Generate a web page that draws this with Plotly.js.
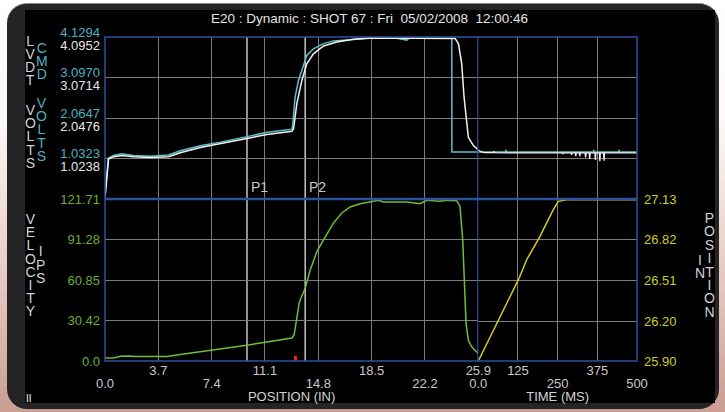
<!DOCTYPE html>
<html>
<head>
<meta charset="utf-8">
<script src="https://cdn.plot.ly/plotly-3.0.1.min.js"></script>
<style>
html,body{margin:0;padding:0;width:725px;height:412px;overflow:hidden;
  background:linear-gradient(to bottom,#ffffff 0%,#fcf8f7 30%,#e4c6be 70%,#c99d92 100%);}
#frame{position:absolute;left:7px;top:3px;width:712px;height:406px;background:#242424;border-radius:20px;border-top:1px solid #8a8a8a;box-sizing:border-box;}
#inner{position:absolute;left:25px;top:10px;width:690px;height:393px;background:#000;}
#chart{position:absolute;left:0;top:0;width:725px;height:412px;}
</style>
</head>
<body>
<div id="frame"></div>
<div id="inner"></div>
<div id="chart"></div>
<script>
// ---------- data ----------
const chartTitle = 'E20 : Dynamic : SHOT 67 : Fri  05/02/2008  12:00:46';

const posTicks    = [0.0, 3.7, 7.4, 11.1, 14.8, 18.5, 22.2, 25.9];
const posTickText = ['0.0','3.7','7.4','11.1','14.8','18.5','22.2','25.9'];
const timeTicks    = [0, 125, 250, 375, 500];
const timeTickText = ['0.0','125','250','375','500'];
const velTicks    = [0, 30.42, 60.85, 91.28, 121.71];
const velTickText = ['0.0','30.42','60.85','91.28','121.71'];
const inTicks    = [25.90, 26.20, 26.51, 26.82, 27.13];
const inTickText = ['25.90','26.20','26.51','26.82','27.13'];
const cmdTicks    = [1.0323, 2.0647, 3.0970, 4.1294];
const cmdTickText = ['1.0323','2.0647','3.0970','4.1294'];
const lvdtTicks    = [1.0238, 2.0476, 3.0714, 4.0952];
const lvdtTickText = ['1.0238','2.0476','3.0714','4.0952'];

// CMD volts vs position (cyan)
const cmdPos   = [0.0, 0.23, 0.58, 1.16, 1.97, 3.13, 4.40, 5.22, 6.61, 8.00, 9.86, 11.25, 12.98, 13.03, 13.19, 13.42, 13.66, 14.00, 14.46, 15.16, 15.85, 16.78, 18.39, 20.24, 20.94, 21.10, 23.94, 24.06, 24.07, 25.9];
const cmdVolts = [0.07, 1.04, 1.11, 1.15, 1.11, 1.09, 1.12, 1.23, 1.36, 1.45, 1.59, 1.70, 1.78, 1.92, 2.60, 3.02, 3.28, 3.66, 3.83, 3.96, 4.03, 4.06, 4.10, 4.10, 4.05, 4.10, 4.10, 4.10, 1.20, 1.20];
// CMD volts vs time (cyan tail)
const cmdTailTime  = [0, 86, 87, 88, 363, 364, 365, 442, 443, 444, 500];
const cmdTailVolts = [1.20, 1.20, 1.25, 1.20, 1.20, 1.25, 1.20, 1.20, 1.25, 1.20, 1.20];

// LVDT volts vs position (white)
const lvdtPos   = [0.0, 0.25, 0.60, 1.18, 1.98, 3.14, 4.41, 5.22, 6.61, 7.99, 9.84, 11.23, 12.96, 13.08, 13.31, 13.66, 14.00, 14.46, 15.16, 16.08, 17.24, 18.39, 24.29, 24.52, 24.75, 24.91, 25.10, 25.21, 25.56, 25.9];
const lvdtVolts = [0.03, 1.01, 1.07, 1.10, 1.07, 1.05, 1.07, 1.17, 1.30, 1.39, 1.53, 1.63, 1.71, 1.77, 2.41, 3.00, 3.42, 3.67, 3.87, 3.97, 4.04, 4.07, 4.06, 3.93, 3.42, 2.58, 1.90, 1.56, 1.35, 1.24];
// LVDT volts vs time (white tail, with dropouts)
const lvdtTailTime  = [0, 10, 20, 48, 49, 50, 120, 265.5, 267, 268.5, 292.5, 294, 295.5, 305.5, 307, 308.5, 318.5, 320, 321.5, 336.5, 338, 339.5, 349.5, 351, 352.5, 367.5, 369, 370.5, 381.5, 383, 384.5, 394.5, 396, 397.5, 500];
const lvdtTailVolts = [1.24, 1.19, 1.17, 1.17, 1.21, 1.17, 1.166, 1.166, 1.14, 1.166, 1.166, 1.115, 1.166, 1.166, 1.08, 1.166, 1.166, 1.08, 1.166, 1.166, 1.054, 1.166, 1.166, 1.014, 1.166, 1.166, 0.988, 1.166, 1.166, 0.953, 1.166, 1.166, 0.97, 1.166, 1.166];

// Velocity (IPS) vs position (green)
const velPos = [0.0, 0.60, 1.06, 1.75, 1.98, 4.30, 5.22, 6.61, 7.99, 9.84, 11.23, 12.96, 13.12, 13.31, 13.47, 13.54, 13.89, 14.24, 14.70, 15.16, 15.85, 16.43, 17.01, 17.70, 18.39, 18.97, 19.32, 20.94, 21.86, 22.32, 23.25, 23.71, 24.40, 24.63, 24.82, 24.93, 25.05, 25.21, 25.44, 25.79, 25.9];
const velIps = [2.3, 2.3, 3.5, 3.8, 3.3, 3.3, 4.8, 6.8, 8.6, 11.8, 14.3, 17.3, 19.4, 34.0, 43.3, 45.8, 54.6, 68.4, 82.2, 91.0, 103.6, 111.2, 115.7, 118.2, 119.7, 120.7, 119.5, 119.5, 118.2, 120.7, 120.0, 120.7, 120.4, 116.1, 91.0, 58.4, 28.2, 15.6, 10.6, 6.8, 5.6];

// Position (IN) vs time (yellow)
const shotTime  = [0, 36.8, 130, 152, 173, 194, 215, 236, 252, 278, 500];
const shotPosIn = [25.90, 26.08, 26.536, 26.667, 26.757, 26.845, 26.947, 27.048, 27.112, 27.125, 27.125];

// Event markers
const markerNames = ['P1', 'P2'];
const markerPos   = [9.85, 13.89];
const redMarkPos  = [13.21, 13.21];
const redMarkVal  = [-1, 4];

// ---------- styling ----------
const W = 725, H = 412, ML = 105, MR = 88, MT = 37, MB = 51;
const PW = W - ML - MR, PH = H - MT - MB;
const px = x => (x - ML) / PW;
const py = y => (H - MB - y) / PH;
const split = (478.3 - ML) / PW;

const FONT = 'Liberation Sans, Arial, Helvetica, sans-serif';
const GRID = '#7c7c7c';
const BLUE = '#2f4fa0';
const CYAN = '#5cbfd0', CYAN_T = '#4fb0c2';
const WHITE = '#f2f2f2', WHITE_T = '#e6e6e6';
const GREEN = '#6cbf3c', GREEN_T = '#6aae34';
const YELLOW = '#d6cc1e', YELLOW_T = '#cfcc2a';
const LABEL = '#c8c8c8';
const STACK = '#d2d2d2';

const axBase = {showgrid:true, gridcolor:GRID, gridwidth:1, zeroline:false, showline:false,
  ticks:'', fixedrange:true, tickmode:'array', autorange:false};

const traces = [
  {x:cmdPos, y:cmdVolts, xaxis:'x', yaxis:'y3', mode:'lines', line:{color:CYAN, width:1.5}, hoverinfo:'skip'},
  {x:cmdTailTime, y:cmdTailVolts, xaxis:'x2', yaxis:'y3', mode:'lines', line:{color:CYAN, width:1.5}, hoverinfo:'skip'},
  {x:lvdtPos, y:lvdtVolts, xaxis:'x', yaxis:'y4', mode:'lines', line:{color:WHITE, width:1.5}, hoverinfo:'skip'},
  {x:lvdtTailTime, y:lvdtTailVolts, xaxis:'x2', yaxis:'y4', mode:'lines', line:{color:WHITE, width:1.3}, hoverinfo:'skip'},
  {x:velPos, y:velIps, xaxis:'x', yaxis:'y', mode:'lines', line:{color:GREEN, width:1.5}, hoverinfo:'skip'},
  {x:shotTime, y:shotPosIn, xaxis:'x2', yaxis:'y2', mode:'lines', line:{color:YELLOW, width:1.5}, hoverinfo:'skip'},
  {x:redMarkPos, y:redMarkVal, xaxis:'x', yaxis:'y', mode:'lines', line:{color:'#ff1a1a', width:3}, hoverinfo:'skip'},
  // carriers so the second label rows (overlay axes) get drawn
  {x:[posTicks[0]], y:[null], xaxis:'x3', yaxis:'y', mode:'lines', hoverinfo:'skip'},
  {x:[timeTicks[0]], y:[null], xaxis:'x4', yaxis:'y2', mode:'lines', hoverinfo:'skip'}
];

const even = (arr) => arr.filter((_, i) => i % 2 === 0);
const tf = (c) => ({family:FONT, size:13, color:c});

const annotations = [];
markerNames.forEach((n, i) => annotations.push({
  text:n, xref:'x', yref:'paper', x:markerPos[i], y:py(187.5), xanchor:'left', yanchor:'middle',
  xshift:2, showarrow:false, font:{family:FONT, size:14, color:LABEL}
}));
// vertical stacked labels: one annotation per word, 14px letters on ~13px line pitch
function stack(word, cx, cy0, step, color) {
  const n = word.length;
  const txt = [...word].map(ch => '<span style="font-size:14px">' + ch + '</span>').join('<br>');
  annotations.push({
    text:txt, xref:'paper', yref:'paper', x:px(cx), y:py(cy0 + (n - 1) * step / 2),
    xanchor:'center', yanchor:'middle', showarrow:false, borderpad:0,
    font:{family:FONT, size:step / 1.3, color:color}
  });
}
stack('LVDT', 30, 41, 13.1, STACK);
stack('VOLTS', 30.5, 110, 13.2, STACK);
stack('CMD', 41.5, 48, 13.2, CYAN_T);
stack('VOLTS', 41.5, 103, 13.2, CYAN_T);
stack('VELOCITY', 30.8, 218.5, 13.2, STACK);
stack('IPS', 40.5, 251, 13.5, STACK);
stack('POSITION', 709, 218.5, 13.4, STACK);
stack('IN', 699.5, 260, 12.5, STACK);
annotations.push({text:'II', xref:'paper', yref:'paper', x:px(29), y:py(398), xanchor:'center', yanchor:'middle',
  showarrow:false, font:{family:FONT, size:10, color:'#ffffff'}});

const shapes = [];
markerPos.forEach(p => shapes.push({type:'line', xref:'x', yref:'paper', x0:p, x1:p, y0:0, y1:1,
  line:{color:'#c4c4c4', width:1.5}, layer:'below'}));
shapes.push({type:'rect', xref:'paper', yref:'paper', x0:0, x1:1, y0:0, y1:1, line:{color:BLUE, width:1.5}});
shapes.push({type:'line', xref:'paper', yref:'paper', x0:0, x1:1, y0:0.5, y1:0.5, line:{color:BLUE, width:2.5}});
const lastPos = posTicks[posTicks.length - 1];
shapes.push({type:'line', xref:'x', yref:'paper', x0:lastPos, x1:lastPos, y0:0, y1:1, line:{color:'#3657b8', width:2}});

const layout = {
  width:W, height:H, margin:{l:ML, r:MR, t:MT, b:MB, pad:0},
  paper_bgcolor:'rgba(0,0,0,0)', plot_bgcolor:'rgba(0,0,0,0)', showlegend:false,
  title:{text:chartTitle, xref:'container', yref:'container', x:369.5/W, y:1 - 18.5/H,
    xanchor:'center', yanchor:'middle', font:{family:FONT, size:13.5, color:'#e4e4e4'}},
  xaxis:Object.assign({}, axBase, {domain:[0, split], range:[0, 25.9], anchor:'y',
    tickvals:posTicks, ticktext:posTickText.map((t, i) => i % 2 ? t : ''), tickfont:tf(LABEL),
    title:{text:'POSITION (IN)', font:{family:FONT, size:13, color:'#d4d4d4'}, standoff:14}}),
  xaxis3:Object.assign({}, axBase, {showgrid:false, overlaying:'x', anchor:'y', range:[0, 25.9],
    tickvals:even(posTicks), ticktext:even(posTickText), tickfont:tf(LABEL), ticklabelstandoff:13}),
  xaxis2:Object.assign({}, axBase, {domain:[split, 1], range:[0, 500], anchor:'y2',
    tickvals:timeTicks, ticktext:timeTickText.map((t, i) => i % 2 ? t : ''), tickfont:tf(LABEL),
    title:{text:'TIME (MS)', font:{family:FONT, size:13, color:'#d4d4d4'}, standoff:14}}),
  xaxis4:Object.assign({}, axBase, {showgrid:false, overlaying:'x2', anchor:'y2', range:[0, 500],
    tickvals:even(timeTicks), ticktext:even(timeTickText), tickfont:tf(LABEL), ticklabelstandoff:13}),
  yaxis:Object.assign({}, axBase, {domain:[0, 0.5], range:[0, 121.71], anchor:'x',
    tickvals:velTicks, ticktext:velTickText, tickfont:tf(GREEN_T), ticklabelshift:-4.5, ticklabelstandoff:4}),
  yaxis2:Object.assign({}, axBase, {domain:[0, 0.5], range:[25.90, 27.13], anchor:'x2', side:'right',
    tickvals:inTicks, ticktext:inTickText, tickfont:tf(YELLOW_T), ticklabelshift:-4.5, ticklabelstandoff:6}),
  yaxis3:Object.assign({}, axBase, {domain:[0.5, 1], range:[0, 4.1294], anchor:'x',
    tickvals:cmdTicks, ticktext:cmdTickText, tickfont:tf(CYAN_T), ticklabelshift:-5, ticklabelstandoff:4}),
  yaxis4:Object.assign({}, axBase, {showgrid:false, overlaying:'y3', range:[0, 4.0952], anchor:'x', side:'left',
    tickvals:lvdtTicks, ticktext:lvdtTickText, tickfont:tf(WHITE_T), ticklabelshift:8, ticklabelstandoff:4}),
  shapes:shapes,
  annotations:annotations
};

Plotly.newPlot('chart', traces, layout, {displayModeBar:false, staticPlot:true});
</script>
</body>
</html>
